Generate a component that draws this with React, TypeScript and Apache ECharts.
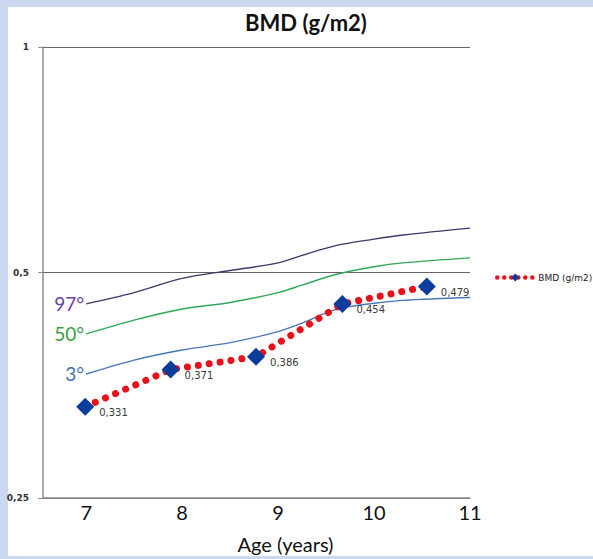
import React, { useEffect, useRef } from "react";
import * as echarts from "echarts";

// BMD measurements (age in years, value in g/m2)
const bmdAges = [6.99, 7.88, 8.77, 9.67, 10.55];
const bmdValues = [0.331, 0.371, 0.386, 0.454, 0.479];
const bmdLabels = ["0,331", "0,371", "0,386", "0,454", "0,479"];

// Reference percentile curves
const curveAges = [7, 7.5, 8, 8.5, 9, 9.25, 9.6, 10, 10.3, 11];
const p97 = [0.454, 0.47, 0.491, 0.503, 0.515, 0.527, 0.543, 0.554, 0.561, 0.573];
const p50 = [0.414, 0.432, 0.447, 0.456, 0.47, 0.481, 0.497, 0.509, 0.515, 0.523];
const p3 = [0.366, 0.382, 0.394, 0.403, 0.417, 0.428, 0.446, 0.455, 0.459, 0.463];

const xTicks = [7, 8, 9, 10, 11];
const yTicks = [0.25, 0.5, 1];

const FONT = "Lato, 'Open Sans', sans-serif";

function curve(name: string, vals: number[], lineColor: string, labelColor: string) {
  return {
    name,
    type: "line",
    smooth: 0.35,
    symbol: "none",
    silent: true,
    z: 1,
    lineStyle: { color: lineColor, width: 1.4 },
    data: curveAges.map((a, i) =>
      i === 0
        ? {
            value: [a, vals[i]],
            symbol: "circle",
            symbolSize: 0.1,
            itemStyle: { color: lineColor },
            label: {
              show: true,
              position: "left",
              distance: 2,
              formatter: name,
              color: labelColor,
              fontSize: 19,
              fontFamily: FONT,
            },
          }
        : [a, vals[i]]
    ),
  };
}

export default function App() {
  const ref = useRef<HTMLDivElement>(null);
  useEffect(() => {
    if (!ref.current) return;
    const chart = echarts.init(ref.current, null, { renderer: "svg" });
    chart.setOption({
      animation: false,
      backgroundColor: "#cbd8ef",
      graphic: [
        {
          type: "rect",
          z: -10,
          silent: true,
          shape: { x: 8, y: 7, width: 585, height: 549 },
          style: { fill: "#ffffff" },
        },
      ],
      title: {
        text: "BMD (g/m2)",
        left: 301,
        top: 6,
        textAlign: "center",
        textStyle: { fontFamily: FONT, fontWeight: "bold", fontSize: 22, color: "#111" },
      },
      legend: {
        left: 490,
        top: 268,
        data: ["BMD (g/m2)"],
        itemWidth: 36,
        itemHeight: 10,
        itemGap: 4,
        textStyle: { fontFamily: "'DejaVu Sans', sans-serif", fontSize: 9, color: "#222" },
        lineStyle: { width: 4.5, type: [0.01, 7], cap: "round" },
      },
      grid: { left: 43, top: 47, right: 123, bottom: 56 },
      xAxis: {
        type: "value",
        min: 6.55,
        max: 11,
        name: "Age (years)",
        nameLocation: "middle",
        nameGap: 36,
        nameTextStyle: {
          fontFamily: FONT,
          fontSize: 20,
          color: "#111",
          padding: [0, 0, 0, 58],
        },
        axisLine: { lineStyle: { color: "#8c8c8c", width: 1.5 } },
        axisTick: { show: false },
        splitLine: { show: false },
        axisLabel: {
          customValues: xTicks,
          fontFamily: FONT,
          fontSize: 20,
          color: "#111",
          margin: 4,
        },
      },
      yAxis: {
        type: "log",
        logBase: 2,
        min: 0.25,
        max: 1,
        axisLine: { show: true, lineStyle: { color: "#8c8c8c", width: 1.5 } },
        axisTick: { show: true, length: 5, lineStyle: { color: "#8c8c8c" }, customValues: yTicks },
        splitLine: { show: true, lineStyle: { color: "#666", width: 1 } },
        axisLabel: {
          customValues: yTicks,
          margin: 14,
          fontSize: 9,
          fontWeight: "bold",
          color: "#333",
          fontFamily: "'DejaVu Sans', sans-serif",
          formatter: (v: number) => String(v).replace(".", ","),
        },
      },
      series: [
        curve("97°", p97, "#3d3a6b", "#6b3fa3"),
        curve("50°", p50, "#2fa85b", "#3a9e42"),
        curve("3°", p3, "#4a78b6", "#3f72b5"),
        {
          name: "BMD (g/m2)",
          type: "line",
          z: 3,
          symbol: "diamond",
          symbolSize: 18,
          itemStyle: { color: "#0a3d9b" },
          lineStyle: { color: "#e8101a", width: 7, type: [0.01, 11], cap: "round" },
          label: {
            show: true,
            position: "right",
            distance: 5,
            offset: [0, 6],
            fontFamily: "'DejaVu Sans', sans-serif",
            fontSize: 10,
            color: "#3a3a3a",
            formatter: (p: any) => bmdLabels[p.dataIndex],
          },
          data: bmdAges.map((a, i) => [a, bmdValues[i]]),
        },
      ],
    });
    return () => chart.dispose();
  }, []);
  return (
    <div
      ref={ref}
      style={{ position: "fixed", left: 0, top: 0, width: 593, height: 559 }}
    />
  );
}
